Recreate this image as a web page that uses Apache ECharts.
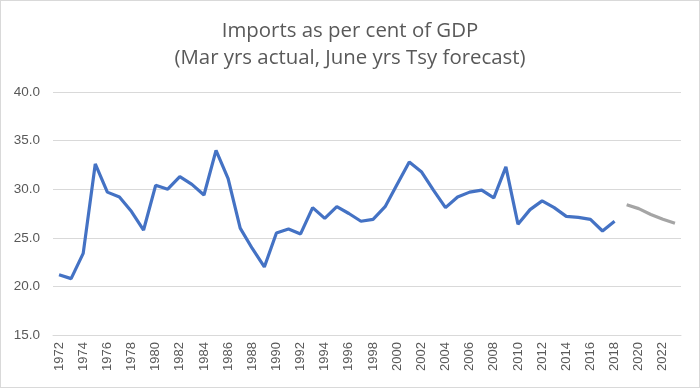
<!DOCTYPE html>
<html>
<head>
<meta charset="utf-8">
<script src="https://cdn.jsdelivr.net/npm/echarts@6/dist/echarts.min.js"></script>
<style>
html,body{margin:0;padding:0;background:#fff;}
#c{width:698px;height:386px;border:1px solid #d9d9d9;}
</style>
</head>
<body>
<div id="c"></div>
<script>
var years = [];
for (var y = 1972; y <= 2023; y++) years.push(String(y));
var actual = [21.2,20.8,23.4,32.6,29.7,29.2,27.7,25.8,30.4,30.0,31.3,30.5,29.4,34.0,31.1,26.0,23.9,22.0,
  25.5,25.9,25.4,28.1,27.0,28.2,27.5,26.7,26.9,28.2,30.5,32.8,31.8,29.9,28.1,29.2,29.7,29.9,29.1,32.3,
  26.4,27.9,28.8,28.1,27.2,27.1,26.9,25.7,26.7,null,null,null,null,null];
var forecast = [null,null,null,null,null,null,null,null,null,null,null,null,null,null,null,null,null,null,
  null,null,null,null,null,null,null,null,null,null,null,null,null,null,null,null,null,null,null,null,
  null,null,null,null,null,null,null,null,null,28.4,28.0,27.4,26.9,26.5];
var chart = echarts.init(document.getElementById('c'));
chart.setOption({
  animation:false,
  title:{
    text:'Imports as per cent of GDP\n(Mar yrs actual, June yrs Tsy forecast)',
    left:'center', top:12,
    textStyle:{fontFamily:'Open Sans',fontSize:20.4,fontWeight:'normal',color:'#595959',lineHeight:27}
  },
  grid:{left:52,right:18,top:91,bottom:52},
  xAxis:{
    type:'category', data:years, boundaryGap:true,
    axisLine:{lineStyle:{color:'#d9d9d9'}},
    axisTick:{show:false},
    axisLabel:{interval:1,rotate:90,color:'#595959',fontFamily:'Liberation Sans Narrow, Liberation Sans',fontSize:13,margin:7}
  },
  yAxis:{
    type:'value', min:15, max:40, interval:5,
    axisLabel:{formatter:function(v){return v.toFixed(1);},color:'#595959',fontFamily:'Liberation Sans',fontSize:13.5,margin:13},
    splitLine:{lineStyle:{color:'#d9d9d9'}},
    axisLine:{show:false}, axisTick:{show:false}
  },
  series:[
    {type:'line',data:actual,symbol:'none',lineStyle:{color:'#4472C4',width:3.2},connectNulls:false},
    {type:'line',data:forecast,symbol:'none',lineStyle:{color:'#A5A5A5',width:3.2},connectNulls:false}
  ]
});
</script>
</body>
</html>
